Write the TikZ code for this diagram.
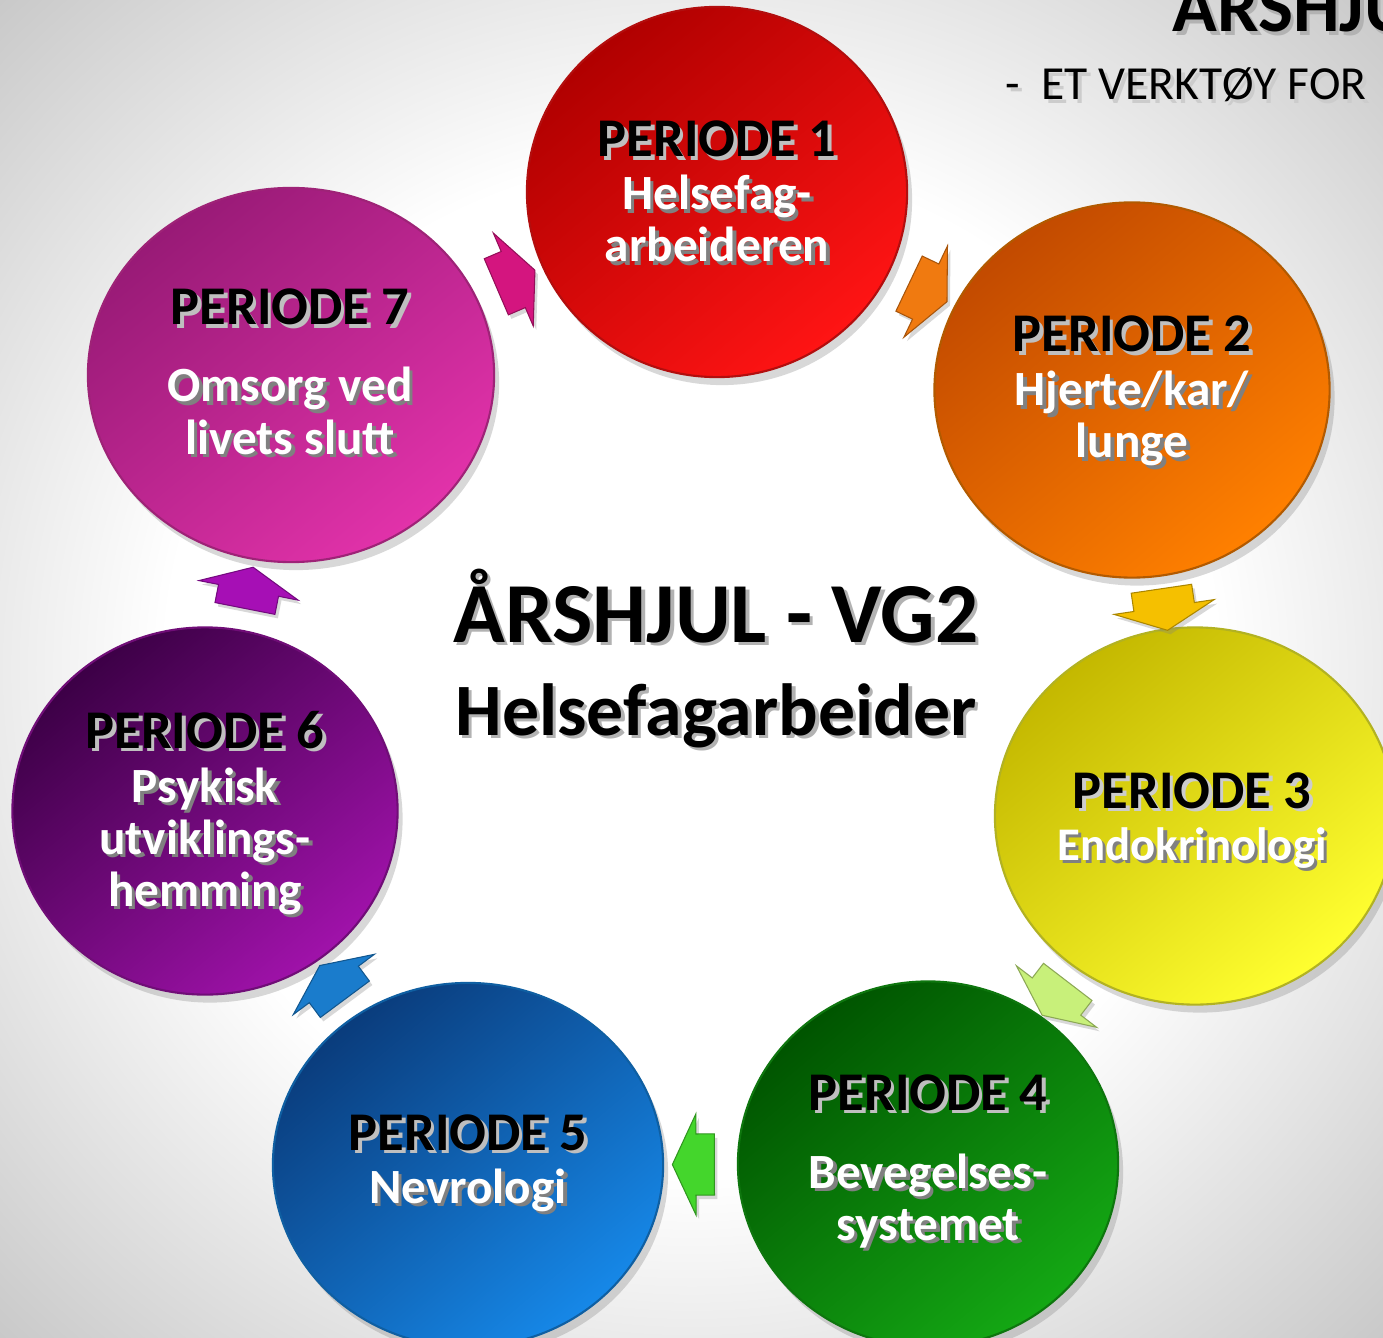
\documentclass[tikz,border=0pt]{standalone}
\usepackage{fontspec}
\setmainfont{Carlito}
\usetikzlibrary{shapes.geometric,shapes.arrows,shadows,calc}

\definecolor{p1top}{HTML}{B00000}\definecolor{p1bunn}{HTML}{FF1414}
\definecolor{p2top}{HTML}{C24A00}\definecolor{p2bunn}{HTML}{FF8000}
\definecolor{p3top}{HTML}{C4B800}\definecolor{p3bunn}{HTML}{FFFF30}
\definecolor{p4top}{HTML}{005400}\definecolor{p4bunn}{HTML}{14A814}
\definecolor{p5top}{HTML}{0A3C7C}\definecolor{p5bunn}{HTML}{1688E8}
\definecolor{p6top}{HTML}{3C0046}\definecolor{p6bunn}{HTML}{A012AA}
\definecolor{p7top}{HTML}{981A76}\definecolor{p7bunn}{HTML}{E232AA}
\definecolor{pil71}{HTML}{D4157F}
\definecolor{pil12}{HTML}{F07A10}
\definecolor{pil23}{HTML}{F5C000}
\definecolor{pil34}{HTML}{C8F07A}
\definecolor{pil45}{HTML}{44D62C}
\definecolor{pil56}{HTML}{1A7CCC}
\definecolor{pil67}{HTML}{A60FB5}

\pgfdeclareradialshading{bakgrunn}{\pgfpoint{0bp}{0bp}}{color(0bp)=(white); color(19bp)=(white); color(36bp)=(black!22); color(50bp)=(black!22)}

\newcommand{\skygge}[2]{\makebox[0pt][l]{\raisebox{-1pt}{\hspace{1pt}\textcolor{#2}{#1}}}#1}

\tikzset{
    sirkel/.style 2 args={ellipse, inner sep=0pt, top color=#1, bottom color=#2, shading angle=40,
        draw=#2!70!black, line width=0.6pt,
        drop shadow={shadow xshift=0.05cm, shadow yshift=-0.08cm, opacity=0.3}},
    pil/.style={single arrow, inner xsep=0pt, inner ysep=0.3cm, fill=#1, draw=#1!70!black, line width=0.3pt,
        minimum height=0.42cm, single arrow head extend=0.2cm,
        single arrow tip angle=130, sloped, allow upside down,
        drop shadow={shadow xshift=0.03cm, shadow yshift=-0.04cm, opacity=0.3}},
    periode/.style={anchor=base, font=\fontsize{15.5}{18}\selectfont\bfseries, text=black},
    tema/.style={anchor=base, font=\fontsize{14}{17}\selectfont\bfseries, text=white}
}

\begin{document}
\begin{tikzpicture}[x=0.01cm, y=-0.01cm]
    \useasboundingbox (0,0) rectangle (1383,1337);
    \clip (0,0) rectangle (1383,1337);

    % Bakgrunn
    \shade[shading=bakgrunn] (0,0) rectangle (1383,1337);

    % Overskrift oppe til hoyre
    \node[anchor=base west, inner sep=0pt, font=\fontsize{21}{24}\selectfont\bfseries] (topptittel) at (1172,32) {\skygge{ÅRSHJU}{black!30}};
    \node[anchor=base west, inner sep=0pt, font=\fontsize{13.5}{16}\selectfont] (undertittel) at (1005,100) {\skygge{-\ \ ET VERKTØY FOR}{black!20}};

    % Perioder
    \node[sirkel={p1top}{p1bunn}, minimum width=3.80cm, minimum height=3.70cm] (p1) at (717,192) {};
    \node[sirkel={p2top}{p2bunn}, minimum width=3.95cm, minimum height=3.75cm] (p2) at (1132,390) {};
    \node[sirkel={p3top}{p3bunn}, minimum width=4.00cm, minimum height=3.77cm] (p3) at (1195,816) {};
    \node[sirkel={p4top}{p4bunn}, minimum width=3.80cm, minimum height=3.65cm] (p4) at (928,1164) {};
    \node[sirkel={p5top}{p5bunn}, minimum width=3.90cm, minimum height=3.64cm] (p5) at (468,1165) {};
    \node[sirkel={p6top}{p6bunn}, minimum width=3.85cm, minimum height=3.67cm] (p6) at (205,811) {};
    \node[sirkel={p7top}{p7bunn}, minimum width=4.06cm, minimum height=3.74cm] (p7) at (291,375) {};

    % Piler mellom periodene
    \path (p7) -- (p1) node[pil=pil71, midway] (a71) {};
    \path (p1) -- (p2) node[pil=pil12, midway] (a12) {};
    \path (p2) -- (p3) node[pil=pil23, midway] (a23) {};
    \path (p3) -- (p4) node[pil=pil34, midway] (a34) {};
    \path (p4) -- (p5) node[pil=pil45, midway] (a45) {};
    \path (p5) -- (p6) node[pil=pil56, midway] (a56) {};
    \path (p6) -- (p7) node[pil=pil67, midway] (a67) {};

    % Tekst i sirklene
    \node[periode] (n1) at (717,157) {\skygge{PERIODE 1}{black!25}};
    \node[tema] (t1a) at (717,210) {\skygge{Helsefag-}{black!50}};
    \node[tema] (t1b) at (717,262) {\skygge{arbeideren}{black!50}};

    \node[periode] (n2) at (1132,352) {\skygge{PERIODE 2}{black!25}};
    \node[tema] (t2a) at (1132,406) {\skygge{Hjerte/kar/}{black!50}};
    \node[tema] (t2b) at (1132,458) {\skygge{lunge}{black!50}};

    \node[periode] (n3) at (1192,808) {\skygge{PERIODE 3}{black!20}};
    \node[tema, font=\fontsize{13.3}{16}\selectfont\bfseries] (t3a) at (1192,860) {\skygge{Endokrinologi}{black!50}};

    \node[periode] (n4) at (928,1110) {\skygge{PERIODE 4}{black!25}};
    \node[tema] (t4a) at (928,1188) {\skygge{Bevegelses-}{black!50}};
    \node[tema] (t4b) at (928,1240) {\skygge{systemet}{black!50}};

    \node[periode] (n5) at (468,1150) {\skygge{PERIODE 5}{black!25}};
    \node[tema] (t5a) at (468,1203) {\skygge{Nevrologi}{black!50}};

    \node[periode] (n6) at (205,748) {\skygge{PERIODE 6}{black!25}};
    \node[tema] (t6a) at (205,802) {\skygge{Psykisk}{black!50}};
    \node[tema] (t6b) at (205,854) {\skygge{utviklings-}{black!50}};
    \node[tema] (t6c) at (205,906) {\skygge{hemming}{black!50}};

    \node[periode] (n7) at (290,325) {\skygge{PERIODE 7}{black!25}};
    \node[tema] (t7a) at (290,402) {\skygge{Omsorg ved}{black!50}};
    \node[tema] (t7b) at (290,454) {\skygge{livets slutt}{black!50}};

    % Tittel i midten
    \node[anchor=base, font=\fontsize{24.3}{27}\selectfont\bfseries] (tittel) at (716,642) {\skygge{ÅRSHJUL - VG2}{black!30}};
    \node[anchor=base, font=\fontsize{21}{24}\selectfont\bfseries] (fag) at (716,735) {\skygge{Helsefagarbeider}{black!30}};
\end{tikzpicture}
\end{document}
